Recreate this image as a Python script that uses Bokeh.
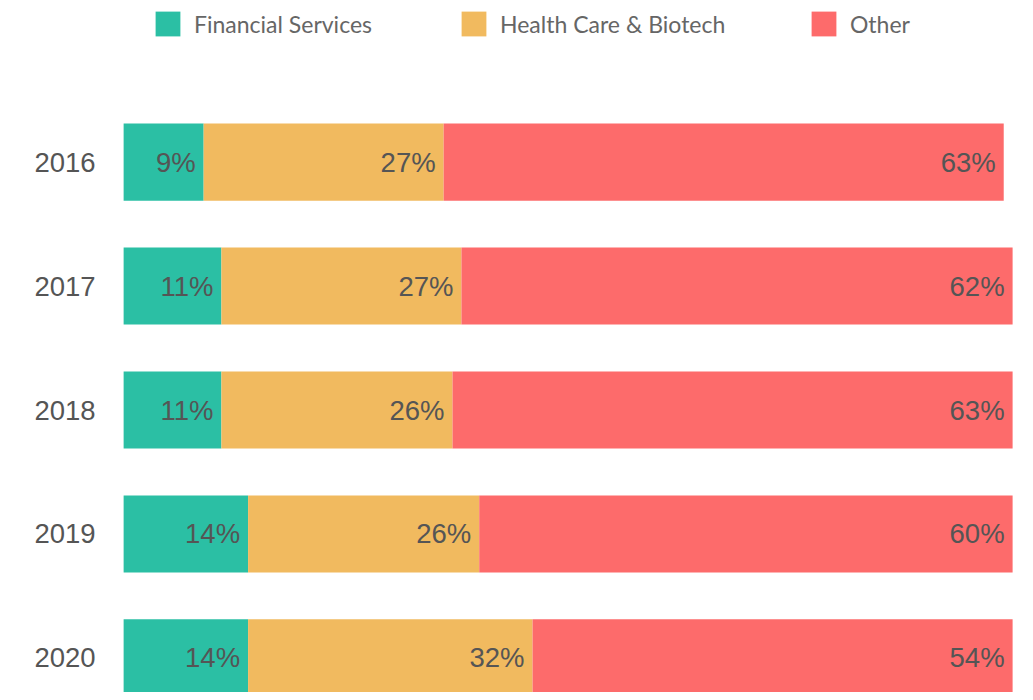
import numpy as np
from bokeh.plotting import figure
from bokeh.models import ColumnDataSource, Range1d, Legend, LegendItem
from bokeh.core.properties import value
from bokeh.embed import file_html
from bokeh.resources import INLINE

years = ["2016", "2017", "2018", "2019", "2020"]
series_names = ["Financial Services", "Health Care & Biotech", "Other"]
financial = [9, 11, 11, 14, 14]
health = [27, 27, 26, 26, 32]
other = [63, 62, 63, 60, 54]
colors = ["#2bbfa4", "#f1ba5f", "#fd6b6b"]
legend_x = [152, 458, 808]

W, H = 1017, 692
p = figure(width=W, height=H, output_backend="svg", toolbar_location=None,
           min_border=0, outline_line_color=None,
           x_range=Range1d(-13.85, 100.55), y_range=Range1d(4.279, -1.304))
p.axis.visible = False
p.grid.visible = False
p.background_fill_color = "white"

ypos = np.arange(len(years))
vals = np.array([financial, health, other], dtype=float)
rights = np.cumsum(vals, axis=0)
lefts = rights - vals

renderers = []
for i, name in enumerate(series_names):
    src = ColumnDataSource(dict(
        y=ypos, left=lefts[i], right=rights[i],
        label=[f"{int(v)}%" for v in vals[i]]))
    r = p.hbar(y="y", left="left", right="right", height=0.622, source=src,
               fill_color=colors[i], line_color=None)
    renderers.append(r)
    p.text(x="right", y="y", text="label", source=src, x_offset=-8,
           text_align="right", text_baseline="middle",
           text_font=value("Liberation Sans"), text_font_size="27.5px",
           text_color="#555555")

ysrc = ColumnDataSource(dict(y=ypos, x=np.zeros(len(years)), t=years))
p.text(x="x", y="y", text="t", source=ysrc, x_offset=-28,
       text_align="right", text_baseline="middle",
       text_font=value("Liberation Sans"), text_font_size="27.5px",
       text_color="#555555")

for name, r, lx in zip(series_names, renderers, legend_x):
    legend = Legend(items=[LegendItem(label=name, renderers=[r])],
                    orientation="horizontal", location=(lx, 653),
                    glyph_width=31, glyph_height=31, label_height=31,
                    label_standoff=11, padding=0, margin=0,
                    border_line_color=None, background_fill_alpha=0,
                    label_text_font="Lato", label_text_font_size="23px",
                    label_text_color="#666666", label_text_baseline="middle")
    p.add_layout(legend)

open("out.html", "w").write(file_html(p, INLINE))
